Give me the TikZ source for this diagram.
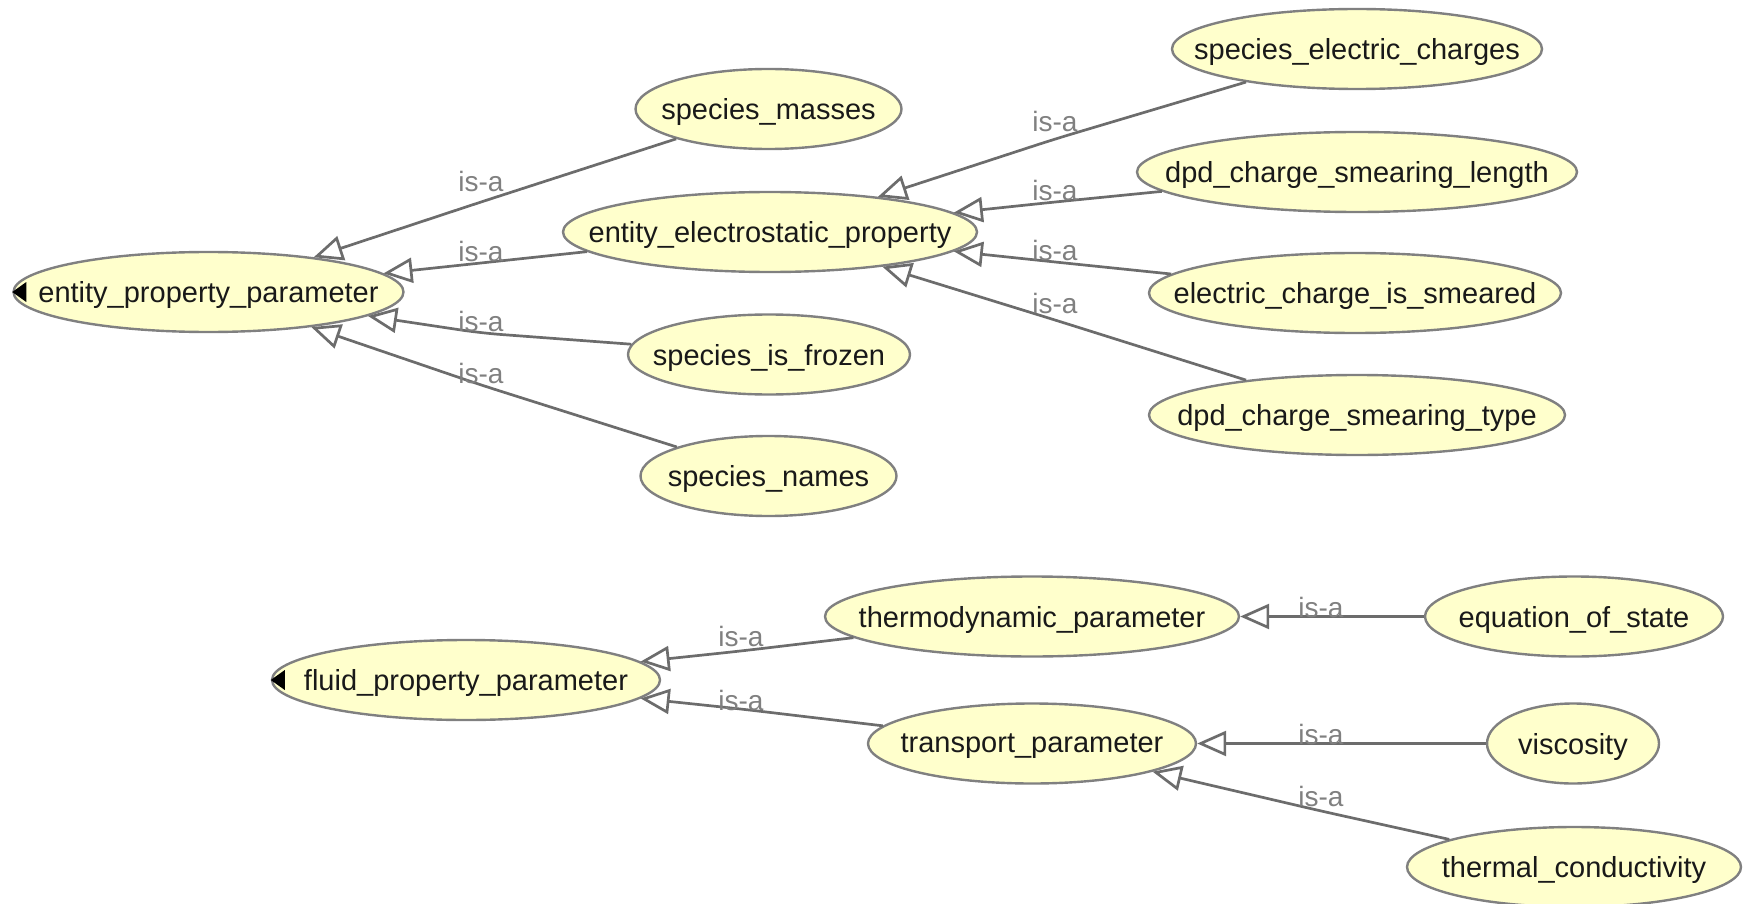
\documentclass[tikz,border=0pt]{standalone}
\usepackage{fontspec}
\setmainfont{Liberation Sans}
\usetikzlibrary{shapes.geometric}
\usetikzlibrary{arrows.meta}

\definecolor{nodefill}{RGB}{255,255,204}
\definecolor{nodeline}{RGB}{128,128,128}
\definecolor{edgeline}{RGB}{108,108,108}
\definecolor{isagray}{RGB}{128,128,128}
\newcommand{\nm}[1]{\makebox[0pt]{#1}}

\tikzset{
	cls/.style={ellipse,draw=nodeline,fill=nodefill,line width=2.4pt,inner sep=0pt,minimum height=80pt,text depth=0pt,text=black!90,font=\fontsize{29}{34}\selectfont},
	isarel/.style={draw=edgeline,line width=2.7pt,rounded corners=20pt,-{Triangle[length=29pt,width=25pt,fill=white]}},
	isa/.style={anchor=south,inner sep=0pt,text=isagray,font=\fontsize{28}{32}\selectfont},
	rootmark/.style={fill=black}
}

\begin{document}
\begin{tikzpicture}[x=1pt,y=-1pt]
	\useasboundingbox (0,0) rectangle (1748,904);
	\node[cls,minimum width=390pt] (epp) at (208.5,292) {\nm{entity\_property\_parameter}};
	\node[cls,minimum width=266pt] (sm) at (768.5,109) {\nm{species\_masses}};
	\node[cls,minimum width=414pt] (eep) at (770,232) {\nm{entity\_electrostatic\_property}};
	\node[cls,minimum width=282pt] (sif) at (769,354.5) {\nm{species\_is\_frozen}};
	\node[cls,minimum width=256pt] (sn) at (768.5,476) {\nm{species\_names}};
	\node[cls,minimum width=370pt] (sec) at (1357,49) {\nm{species\_electric\_charges}};
	\node[cls,minimum width=440pt] (dcsl) at (1357,172) {\nm{dpd\_charge\_smearing\_length}};
	\node[cls,minimum width=412pt] (ecis) at (1355,293) {\nm{electric\_charge\_is\_smeared}};
	\node[cls,minimum width=416pt] (dcst) at (1357,415) {\nm{dpd\_charge\_smearing\_type}};
	\node[cls,minimum width=388pt] (fpp) at (466,680) {\nm{fluid\_property\_parameter}};
	\node[cls,minimum width=414pt] (tdp) at (1032,616.5) {\nm{thermodynamic\_parameter}};
	\node[cls,minimum width=328pt] (tp) at (1032,743.5) {\nm{transport\_parameter}};
	\node[cls,minimum width=298pt] (eos) at (1574,616.5) {\nm{equation\_of\_state}};
	\node[cls,minimum width=172pt] (visc) at (1573,743.5) {\nm{viscosity}};
	\node[cls,minimum width=334pt] (tc) at (1574,867) {\nm{thermal\_conductivity}};

	\fill[rootmark] (epp.west) -- ++(14,-10) -- ++(0,20) -- cycle;
	\fill[rootmark] (fpp.west) -- ++(14,-10) -- ++(0,20) -- cycle;

	\coordinate (w1) at (481,202);
	\coordinate (w2) at (481,263);
	\coordinate (w3) at (481,333);
	\coordinate (w4) at (481,385);
	\coordinate (w5) at (1055,139);
	\coordinate (w6) at (1055,202);
	\coordinate (w7) at (1055,262);
	\coordinate (w8) at (1055,320);
	\coordinate (w9) at (741,651);
	\coordinate (w10) at (741,709);
	\coordinate (w11) at (1321,616.5);
	\coordinate (w12) at (1321,743.5);
	\coordinate (w13) at (1321,811);

	\draw[isarel] (sm) -- (w1) node[isa,yshift=9pt]{is-a} -- (epp);
	\draw[isarel] (eep) -- (w2) node[isa]{is-a} -- (epp);
	\draw[isarel] (sif) -- (w3) node[isa]{is-a} -- (epp);
	\draw[isarel] (sn) -- (w4) node[isa]{is-a} -- (epp);
	\draw[isarel] (sec) -- (w5) node[isa,yshift=6pt]{is-a} -- (eep);
	\draw[isarel] (dcsl) -- (w6) node[isa]{is-a} -- (eep);
	\draw[isarel] (ecis) -- (w7) node[isa]{is-a} -- (eep);
	\draw[isarel] (dcst) -- (w8) node[isa,yshift=5pt]{is-a} -- (eep);
	\draw[isarel] (tdp) -- (w9) node[isa,yshift=3pt]{is-a} -- (fpp);
	\draw[isarel] (tp) -- (w10) node[isa,yshift=-3pt]{is-a} -- (fpp);
	\draw[isarel] (eos) -- (w11) node[isa,yshift=-3pt]{is-a} -- (tdp);
	\draw[isarel] (visc) -- (w12) node[isa,yshift=-3pt]{is-a} -- (tp);
	\draw[isarel] (tc) -- (w13) node[isa,yshift=3pt]{is-a} -- (tp);
\end{tikzpicture}
\end{document}
